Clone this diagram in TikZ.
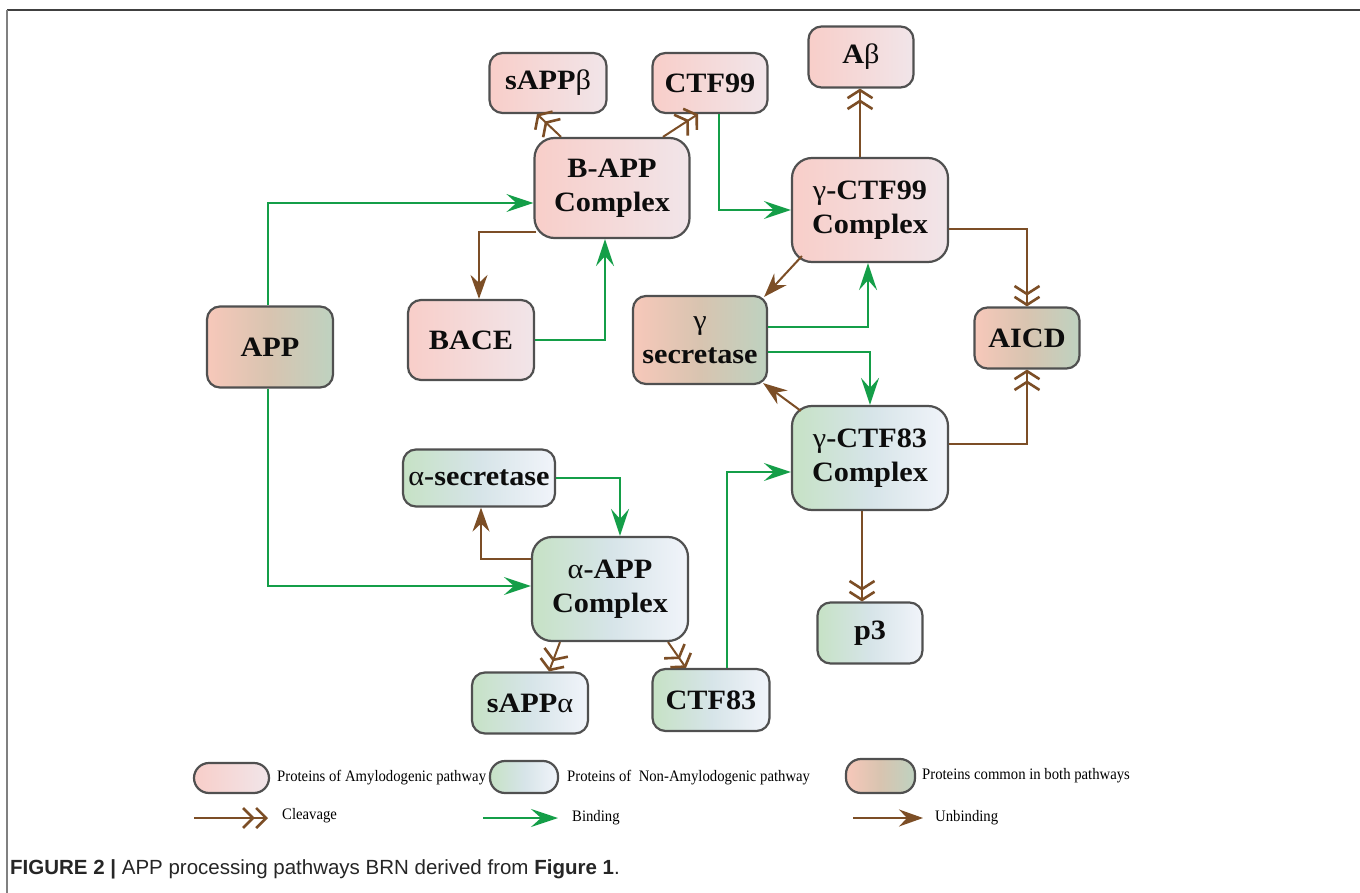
\documentclass[tikz,border=0pt]{standalone}
\usepackage{fontspec}
\setmainfont{Liberation Serif}
\newfontfamily\nodefont[FakeStretch=1.08]{Liberation Serif}
\newfontfamily\legfont[FakeStretch=0.92]{Liberation Serif}
\newfontfamily\capfont{Liberation Sans}
\usetikzlibrary{arrows.meta}

\definecolor{amyL}{RGB}{248,206,201}
\definecolor{amyR}{RGB}{241,229,233}
\definecolor{nonL}{RGB}{198,226,197}
\definecolor{nonM}{RGB}{214,228,232}
\definecolor{nonR}{RGB}{241,244,250}
\definecolor{comL}{RGB}{247,200,186}
\definecolor{comM}{RGB}{216,196,176}
\definecolor{comR}{RGB}{190,210,192}
\definecolor{boxline}{RGB}{80,80,80}
\definecolor{bindgreen}{RGB}{20,158,72}
\definecolor{unbrown}{RGB}{124,78,38}

\newcommand\grk[1]{{\mdseries #1}}

\tikzset{
  box/.style={draw=boxline, line width=2.2pt, inner sep=0pt, align=center,
    font=\nodefont\bfseries\fontsize{28}{34}\selectfont, text=black!95},
  small/.style={box, rounded corners=13pt},
  big/.style={box, rounded corners=20pt},
  amy/.style={left color=amyL, right color=amyR},
  non/.style={left color=nonL, right color=nonR, middle color=nonM},
  com/.style={left color=comL, right color=comR, middle color=comM},
  bind/.style={draw=bindgreen, line width=2pt,
    -{Stealth[length=27pt,width=18pt,inset=10pt]}},
  unbind/.style={draw=unbrown, line width=2pt,
    -{Stealth[length=24pt,width=17pt,inset=8pt]}},
  cleave/.style={draw=unbrown, line width=2pt,
    -{Straight Barb[length=8pt,width=25pt,line width=0pt 1.3]
      Straight Barb[length=8pt,width=25pt,line width=0pt 1.3]}},
  legcleave/.style={draw=unbrown, line width=2pt,
    -{Straight Barb[length=10pt,width=20pt,line width=0pt 1.3]
      Straight Barb[length=10pt,width=20pt,line width=0pt 1.3]}},
  pill/.style={draw=boxline, line width=2.2pt, rounded corners=15pt, inner sep=0pt},
  legtext/.style={anchor=west, inner sep=0pt, font=\legfont\fontsize{16}{18}\selectfont}
}

\begin{document}
\begin{tikzpicture}[x=1pt,y=-1pt]
\useasboundingbox (0,0) rectangle (1360,893);
\fill[white] (0,0) rectangle (1360,893);

% outer frame
\draw[line width=1.6pt, black!75] (7,10) -- (1360,10);
\draw[line width=2pt, black!50] (7,10) -- (7,893);

% amyloidogenic branch
\node[small, amy, minimum width=117pt, minimum height=60pt] (sappb) at (548,83) {sAPP\grk{β}};
\node[small, amy, minimum width=115pt, minimum height=60pt] (ctf99) at (710,83) {CTF99};
\node[big, amy, minimum width=155pt, minimum height=100pt] (bapp) at (612,188) {B-APP\\Complex};
\node[small, amy, minimum width=105pt, minimum height=61pt] (abeta) at (861,57) {A\grk{β}};
\node[big, amy, minimum width=156pt, minimum height=104pt] (gctf99) at (870,210) {\grk{γ}-CTF99\\Complex};
\node[small, amy, minimum width=126pt, minimum height=80pt] (bace) at (471,340) {BACE};

% shared species
\node[small, com, minimum width=126pt, minimum height=81pt] (app) at (270,347) {APP};
\node[small, com, minimum width=134pt, minimum height=88pt] (gsec) at (700,340) {\grk{γ}\\secretase};
\node[small, com, minimum width=105pt, minimum height=61pt] (aicd) at (1027,338) {AICD};

% non-amyloidogenic branch
\node[big, non, minimum width=156pt, minimum height=104pt] (gctf83) at (870,458) {\grk{γ}-CTF83\\Complex};
\node[small, non, minimum width=152pt, minimum height=57pt] (asec) at (479,478) {\grk{α}-secretase};
\node[big, non, minimum width=156pt, minimum height=104pt] (aapp) at (610,589) {\grk{α}-APP\\Complex};
\node[small, non, minimum width=116pt, minimum height=61pt] (sappa) at (530,703) {sAPP\grk{α}};
\node[small, non, minimum width=117pt, minimum height=62pt] (ctf83) at (711,700) {CTF83};
\node[small, non, minimum width=105pt, minimum height=61pt] (p3) at (870,633) {p3};

% cleavage reactions
\draw[cleave] ([xshift=-51pt]bapp.north) -- ([xshift=-11pt]sappb.south);
\draw[cleave] ([xshift=51pt]bapp.north) -- ([xshift=-12pt]ctf99.south);
\draw[cleave] ([xshift=-10pt]gctf99.north) -- ([xshift=-10pt]gctf99.north |- abeta.south);
\draw[cleave] ([yshift=-19pt]gctf99.east) -| (aicd.north);
\draw[cleave] ([yshift=14pt]gctf83.east) -| (aicd.south);
\draw[cleave] ([xshift=-8pt]gctf83.south) -- ([xshift=-8pt]p3.north);
\draw[cleave] ([xshift=-50pt]aapp.south) -- ([xshift=19pt]sappa.north);
\draw[cleave] ([xshift=58pt]aapp.south) -- ([xshift=-25pt]ctf83.north);

% binding reactions
\draw[bind] ([xshift=-2pt]app.north) |- ([yshift=-15pt]bapp.west);
\draw[bind] ([xshift=9pt]ctf99.south) |- (gctf99.west);
\draw[bind] (bace.east) -| ([xshift=-7pt]bapp.south);
\draw[bind] ([yshift=13pt]gsec.east) -| ([xshift=-2pt]gctf99.south);
\draw[bind] ([yshift=-12pt]gsec.east) -| (gctf83.north);
\draw[bind] ([xshift=-2pt]app.south) |- ([yshift=3pt]aapp.west);
\draw[bind] (asec.east) -| ([xshift=10pt]aapp.north);
\draw[bind] ([xshift=16pt]ctf83.north) |- ([yshift=-14pt]gctf83.west);

% unbinding reactions
\draw[unbind] ([xshift=3pt,yshift=-44pt]bapp.west) -| ([xshift=8pt]bace.north);
\draw[unbind] ([xshift=11pt,yshift=7pt]gctf99.south west) -- ([xshift=-4pt,yshift=-2pt]gsec.north east);
\draw[unbind] ([xshift=10pt,yshift=-6pt]gctf83.north west) -- ([xshift=-5pt,yshift=2pt]gsec.south east);
\draw[unbind] ([yshift=30pt]aapp.west) -| ([xshift=2pt]asec.south);

% legend
\node[pill, amy, minimum width=75pt, minimum height=30pt] (lamy) at (231.5,778) {};
\node[legtext] (tamy) at (277,778) {Proteins of Amylodogenic pathway};
\node[pill, non, minimum width=68pt, minimum height=32pt] (lnon) at (524,777) {};
\node[legtext] (tnon) at (567,778) {Proteins of \ Non-Amylodogenic pathway};
\node[pill, com, minimum width=69pt, minimum height=34pt] (lcom) at (880.5,776) {};
\node[legtext] (tcom) at (922,776) {Proteins common in both pathways};

\coordinate (c1) at (194,818); \coordinate (c2) at (268,818);
\coordinate (b1) at (483,818); \coordinate (b2) at (558,818);
\coordinate (u1) at (853,818); \coordinate (u2) at (923,818);
\draw[legcleave] (c1) -- (c2);
\draw[bind] (b1) -- (b2);
\draw[unbind] (u1) -- (u2);
\node[legtext] (tcl) at (282,816) {Cleavage};
\node[legtext] (tbi) at (572,818) {Binding};
\node[legtext] (tun) at (935,818) {Unbinding};

% caption
\node[anchor=base west, inner sep=0pt, font=\capfont\fontsize{20.5}{23}\selectfont, text=black!85] (cap) at (10,874)
  {\textbf{FIGURE 2 |} APP processing pathways BRN derived from \textbf{Figure 1}.};
\end{tikzpicture}
\end{document}
